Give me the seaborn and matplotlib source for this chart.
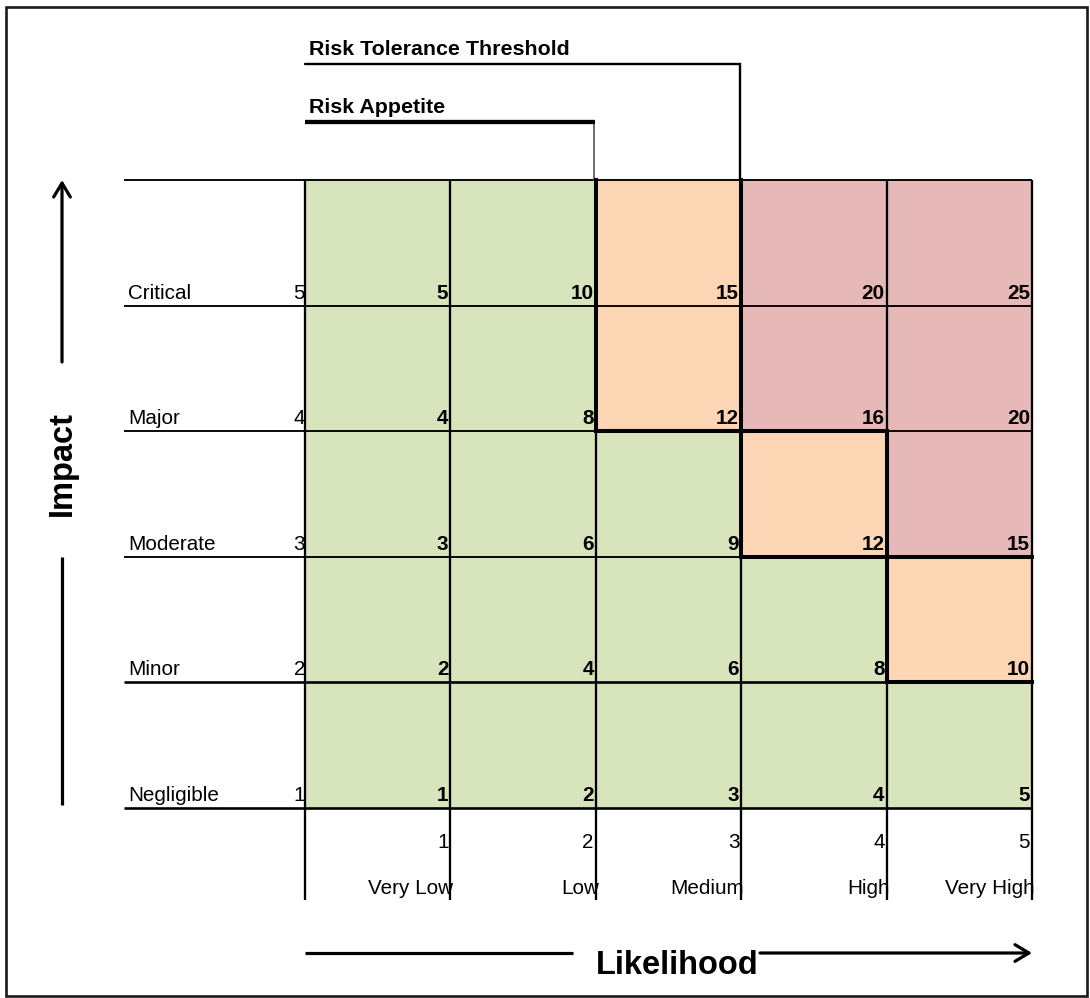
import matplotlib
matplotlib.use("Agg")
import matplotlib.pyplot as plt
from matplotlib.colors import ListedColormap
from matplotlib.patches import Rectangle
import numpy as np
import pandas as pd
import seaborn as sns

sns.set_style("white")
plt.rcParams["font.family"] = ["Liberation Sans", "DejaVu Sans"]
plt.rcParams["text.color"] = "black"

# ---- data -------------------------------------------------------------
impact_labels = ["Critical", "Major", "Moderate", "Minor", "Negligible"]
impact_levels = [5, 4, 3, 2, 1]
likelihood_labels = ["Very Low", "Low", "Medium", "High", "Very High"]
likelihood_levels = [1, 2, 3, 4, 5]

# risk score per cell (rows: Critical -> Negligible, cols: Very Low -> Very High)
risk_scores = [
    [5, 10, 15, 20, 25],
    [4, 8, 12, 16, 20],
    [3, 6, 9, 12, 15],
    [2, 4, 6, 8, 10],
    [1, 2, 3, 4, 5],
]
# 0 = within appetite, 1 = above appetite, 2 = above tolerance
risk_zone = [
    [0, 0, 1, 2, 2],
    [0, 0, 1, 2, 2],
    [0, 0, 0, 1, 2],
    [0, 0, 0, 0, 1],
    [0, 0, 0, 0, 0],
]
zone_colors = ["#D8E4BC", "#FCD5B4", "#E6B8B7"]

# ---- layout (pixels of the 1090 x 998 canvas) -------------------------
W, H = 1090, 998
X0, Y0 = 305, 180          # top-left corner of the matrix
CW, RH = 145.4, 125.6      # cell width / height


def gx(px):
    return (px - X0) / CW


def gy(py):
    return (py - Y0) / RH


fig = plt.figure(figsize=(W / 100, H / 100), dpi=100)
ax = fig.add_axes([0, 0, 1, 1])

zone_df = pd.DataFrame(risk_zone, index=impact_labels, columns=likelihood_labels)
sns.heatmap(zone_df, cmap=ListedColormap(zone_colors), vmin=-0.5, vmax=2.5,
            cbar=False, linewidths=0, ax=ax, xticklabels=False, yticklabels=False)

ax.set_xlim(gx(0), gx(W))
ax.set_ylim(gy(H), gy(0))
ax.set_axis_off()

n_rows, n_cols = zone_df.shape
K = "black"
LW_GRID = 1.35
LW_HEAVY = 1.9
LW_ZONE = 2.9

# horizontal rules (extend left under the impact labels)
for r in range(n_rows + 1):
    lw = LW_HEAVY if r >= n_rows - 1 else LW_GRID
    ax.plot([gx(124), n_cols], [r, r], color=K, lw=lw, solid_capstyle="butt", zorder=3)

# vertical rules (extend down under the likelihood labels)
for c in range(n_cols + 1):
    ax.plot([c, c], [0, gy(900)], color=K, lw=LW_GRID + 0.3, solid_capstyle="butt", zorder=3)

# heavy borders wherever the zone changes between neighbouring cells
for i in range(n_rows):
    for j in range(n_cols - 1):
        if risk_zone[i][j] != risk_zone[i][j + 1]:
            ax.plot([j + 1, j + 1], [i, i + 1], color=K, lw=LW_ZONE,
                    solid_capstyle="projecting", zorder=4)
for i in range(n_rows - 1):
    for j in range(n_cols):
        if risk_zone[i][j] != risk_zone[i + 1][j]:
            ax.plot([j, j + 1], [i + 1, i + 1], color=K, lw=LW_ZONE,
                    solid_capstyle="projecting", zorder=4)

FS = 14.9
base_off = 7 / RH

# impact labels and levels
for r, (name, lvl) in enumerate(zip(impact_labels, impact_levels)):
    yb = r + 1 - base_off
    ax.text(gx(128), yb, name, ha="left", va="baseline", fontsize=FS, zorder=5)
    ax.text(gx(305), yb, str(lvl), ha="right", va="baseline", fontsize=FS, zorder=5)

# cell scores
for r in range(n_rows):
    for c in range(n_cols):
        ax.text(c + 1 - 2 / CW, r + 1 - base_off, str(risk_scores[r][c]),
                ha="right", va="baseline", fontsize=FS, fontweight="bold", zorder=5)

# likelihood levels and labels
for c, (name, lvl) in enumerate(zip(likelihood_labels, likelihood_levels)):
    ax.text(c + 1 - 2 / CW, gy(848), str(lvl), ha="right", va="baseline", fontsize=FS, zorder=5)
    ax.text(c + 1 + 3 / CW, gy(894), name, ha="right", va="baseline", fontsize=FS, zorder=5)

# risk tolerance / appetite brackets
tol_col = 3
app_col = 2
ax.plot([0, tol_col - 1 / CW, tol_col - 1 / CW], [gy(64), gy(64), 0],
        color=K, lw=1.7, solid_joinstyle="miter", zorder=3)
ax.text(gx(309), gy(55), "Risk Tolerance Threshold", ha="left", va="baseline",
        fontsize=15.4, fontweight="bold")
ax.plot([app_col - 2 / CW, app_col - 2 / CW], [gy(122), 0], color="#555555", lw=1.2, zorder=3)
ax.plot([0, app_col - 1 / CW], [gy(122), gy(122)], color=K, lw=3.1,
        solid_capstyle="butt", zorder=3)
ax.text(gx(309), gy(113), "Risk Appetite", ha="left", va="baseline",
        fontsize=15.4, fontweight="bold")

# axis arrows
arrow_kw = dict(arrowstyle="->,head_length=0.5,head_width=0.3", mutation_scale=20,
                lw=2.3, color=K, shrinkA=0, shrinkB=0)
xa = gx(62)
ax.annotate("", xy=(xa, 0), xytext=(xa, gy(362)), arrowprops=arrow_kw)
ax.plot([xa, xa], [gy(557), gy(805)], color=K, lw=2.3, solid_capstyle="butt")
ax.text(xa, gy(463), "Impact", rotation=90, ha="center", va="center",
        fontsize=23.5, fontweight="bold")

ya = gy(953)
ax.plot([0, gx(573)], [ya, ya], color=K, lw=2.3, solid_capstyle="butt")
ax.annotate("", xy=(n_cols, ya), xytext=(gx(760), ya), arrowprops=arrow_kw)
ax.text(gx(677), gy(974), "Likelihood", ha="center", va="baseline",
        fontsize=23.5, fontweight="bold")

# outer frame
ax.add_patch(Rectangle((gx(6), gy(7)), gx(1087) - gx(6), gy(996) - gy(7),
                       fill=False, edgecolor="#1a1a1a", lw=1.9, zorder=6))

fig.savefig("out.png", dpi=100)
